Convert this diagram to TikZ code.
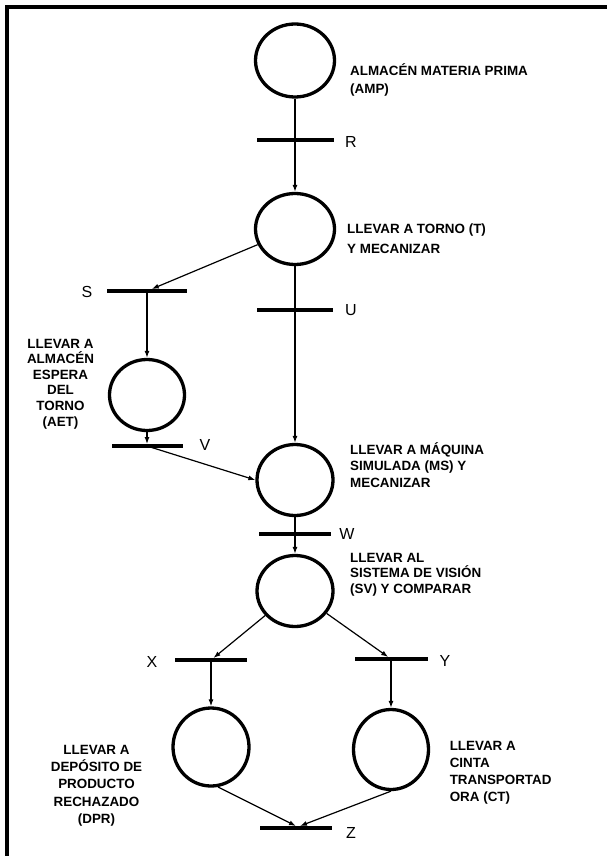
\documentclass[tikz,border=0pt]{standalone}
\usepackage{fontspec}
\setmainfont{Liberation Sans}
\usetikzlibrary{shapes.geometric,arrows.meta}
\newcommand\mystrut{\rule{0pt}{13pt}}
\begin{document}
\begin{tikzpicture}[x=1pt,y=-1pt,
  place/.style={ellipse,draw,line width=3.3pt,inner sep=0pt},
  trans/.style={rectangle,fill=black,minimum height=4pt,inner sep=0pt,outer sep=0pt},
  arc/.style={line width=1.2pt,-{Latex[length=7pt,width=5pt]}},
  plainarc/.style={line width=1.2pt},
  dtext/.style={font=\bfseries\fontsize{13.4}{#1}\selectfont,inner sep=0pt},
  dtext/.default=16,
  tlabel/.style={font=\fontsize{16}{18}\selectfont,inner sep=0pt}]
\useasboundingbox (0,0) rectangle (607,856);
\fill[white] (0,0) rectangle (607,856);
\draw[line width=4pt] (607,7) -- (7,7) -- (7,856);

% places
\node[place,minimum width=79pt,minimum height=73pt] (p1) at (295,60.5) {};
\node[place,minimum width=79pt,minimum height=71pt] (p2) at (295,229) {};
\node[place,minimum width=75pt,minimum height=71pt] (p3) at (147,395) {};
\node[place,minimum width=76pt,minimum height=71pt] (p4) at (295,480) {};
\node[place,minimum width=76pt,minimum height=71pt] (p5) at (295,591) {};
\node[place,minimum width=76pt,minimum height=78pt] (p6) at (211,747) {};
\node[place,minimum width=75pt,minimum height=80pt] (p7) at (391,749.5) {};

% transitions
\node[trans,minimum width=77pt] (tR) at (295,140) {};
\node[trans,minimum width=80pt] (tS) at (147,291) {};
\node[trans,minimum width=76pt] (tU) at (295,310) {};
\node[trans,minimum width=71pt] (tV) at (147,446) {};
\node[trans,minimum width=72pt] (tW) at (295,534) {};
\node[trans,minimum width=72pt] (tX) at (211,660) {};
\node[trans,minimum width=73pt] (tY) at (391,659) {};
\node[trans,minimum width=72pt] (tZ) at (296,828) {};

% transition labels
\node[tlabel] (lR) at (351,142) {R};
\node[tlabel] (lS) at (87,292) {S};
\node[tlabel] (lU) at (351,310) {U};
\node[tlabel] (lV) at (205,445) {V};
\node[tlabel] (lW) at (347,534) {W};
\node[tlabel] (lX) at (152,662) {X};
\node[tlabel] (lY) at (445,661) {Y};
\node[tlabel] (lZ) at (351,833) {Z};

% place descriptions
\node[dtext=18,align=left,anchor=north west] (d1) at (350,62.8)
  {\mystrut ALMACÉN MATERIA PRIMA\\(AMP)};
\node[dtext=20,align=left,anchor=north west] (d2) at (347,219.8)
  {\mystrut LLEVAR A TORNO (T)\\Y MECANIZAR};
\node[dtext=15.6,align=center,anchor=north] (d3) at (60.5,334.8)
  {\mystrut LLEVAR A\\ALMACÉN\\ESPERA\\DEL\\TORNO\\(AET)};
\node[dtext=16.5,align=left,anchor=north west] (d4) at (350,440.8)
  {\mystrut LLEVAR A MÁQUINA\\SIMULADA (MS) Y\\MECANIZAR};
\node[dtext=15.5,align=left,anchor=north west] (d5) at (350,548.8)
  {\mystrut LLEVAR AL\\SISTEMA DE VISIÓN\\(SV) Y COMPARAR};
\node[dtext=17.4,align=center,anchor=north] (d6) at (96.5,740.8)
  {\mystrut LLEVAR A\\DEPÓSITO DE\\PRODUCTO\\RECHAZADO\\(DPR)};
\node[dtext=17.3,align=left,anchor=north west] (d7) at (449.6,736.8)
  {\mystrut LLEVAR A\\CINTA\\TRANSPORTAD\\ORA (CT)};

% connectors
\draw[plainarc] (p1) -- (tR);
\draw[arc] (tR) -- (p2);
\draw[arc] (p2) -- (tS);
\draw[arc] (tS) -- (p3);
\draw[arc] (p3) -- (tV);
\draw[arc] (tV.center) -- (p4.west);
\draw[plainarc] (p2) -- (tU);
\draw[arc] (tU) -- (p4);
\draw[plainarc] (p4) -- (tW);
\draw[arc] (tW) -- (p5);
\draw[arc] (p5) -- (tX);
\draw[arc] (p5) -- (tY);
\draw[arc] (tX) -- (p6);
\draw[arc] (tY) -- (p7);
\draw[arc] (p6.-80) -- ([xshift=0pt]tZ.north);
\draw[arc] (p7.south) -- ([xshift=4pt]tZ.north);
\end{tikzpicture}
\end{document}
